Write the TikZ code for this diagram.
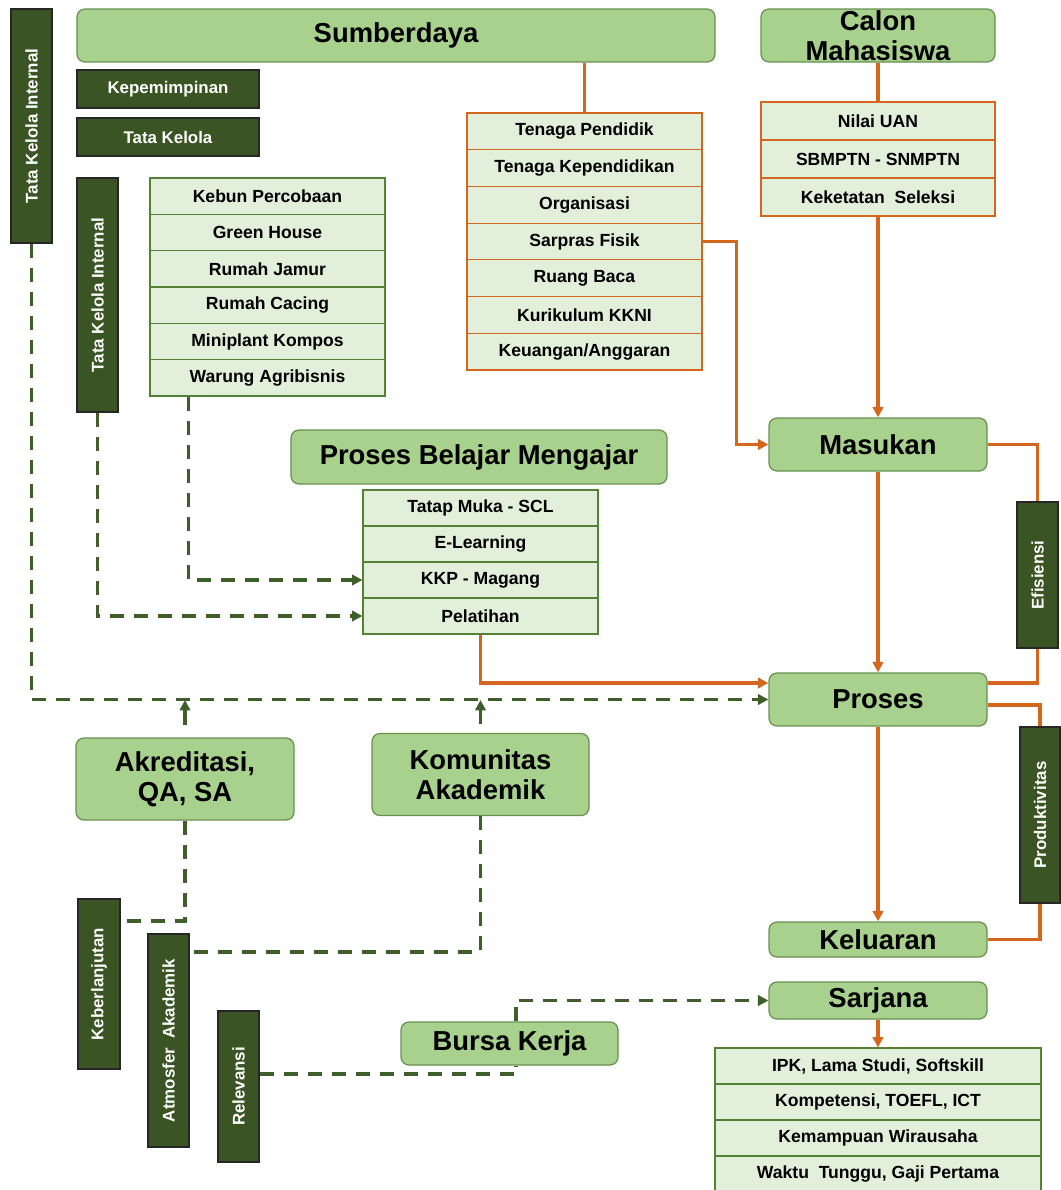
\documentclass[tikz,border=0pt]{standalone}
\usepackage{fontspec}
\setmainfont{Liberation Sans}
\usetikzlibrary{arrows.meta,calc}
\definecolor{mainfill}{RGB}{169,209,142}
\definecolor{mainedge}{RGB}{104,145,80}
\definecolor{darkfill}{RGB}{59,84,35}
\definecolor{rowfill}{RGB}{226,239,218}
\definecolor{rowedge}{RGB}{84,130,53}
\definecolor{orangeclr}{RGB}{212,102,30}
\definecolor{dashclr}{RGB}{62,95,42}

\begin{document}
\begin{tikzpicture}[x=0.25mm, y=-0.25mm,
  mainbox/.style={draw=mainedge, fill=mainfill, rounded corners=2mm, line width=0.9pt,
    font=\fontsize{19.5}{21}\selectfont\bfseries, inner sep=0pt, align=center},
  darkbox/.style={draw=black!85, fill=darkfill, text=white, line width=1pt,
    font=\fontsize{12}{14}\selectfont\bfseries, inner sep=0pt},
  darkvert/.style={darkbox, rotate=90},
  greenrow/.style={draw=rowedge, fill=rowfill, line width=0.8pt, inner sep=0pt,
    font=\fontsize{12.5}{14}\selectfont\bfseries},
  orangerow/.style={greenrow, draw=orangeclr},
  orline/.style={draw=orangeclr, line width=2.6pt},
  orarrow/.style={orline, -{Triangle[length=2.6mm,width=2.6mm]}},
  gnline/.style={draw=dashclr, line width=2.4pt, dash pattern=on 3.5mm off 2.5mm},
  gnarrow/.style={gnline, -{Triangle[length=2.6mm,width=2.6mm]}}]
\useasboundingbox[fill=white] (0,0) rectangle (1060,1190);

% kepala
\node[mainbox, minimum width=159.5mm, minimum height=13.25mm] (sumber) at (396,35.5) {Sumberdaya};
\node[mainbox, minimum width=58.5mm, minimum height=13.25mm] (calon) at (878,35.5) {Calon\\Mahasiswa};
\node[darkvert, minimum width=58.5mm, minimum height=10.25mm] (tki1) at (31.5,126) {Tata Kelola Internal};
\node[darkbox, minimum width=45.5mm, minimum height=9.5mm] (kepem) at (168,89) {Kepemimpinan};
\node[darkbox, minimum width=45.5mm, minimum height=9.5mm] (tatakel) at (168,137) {Tata Kelola};
\node[darkvert, minimum width=58.5mm, minimum height=10.25mm] (tki2) at (97.5,295) {Tata Kelola Internal};

% daftar
\foreach \t [count=\i] in {Kebun Percobaan, Green House, Rumah Jamur, Rumah Cacing, Miniplant Kompos, Warung Agribisnis}
  \node[greenrow, minimum width=58.75mm, minimum height=9.08mm] (fas\i) at (267.5,{178+(\i-0.5)*36.33}) {\t};
\foreach \t [count=\i] in {Tenaga Pendidik, Tenaga Kependidikan, Organisasi, Sarpras Fisik, Ruang Baca, Kurikulum KKNI, Keuangan/Anggaran}
  \node[orangerow, minimum width=58.75mm, minimum height=9.18mm] (sd\i) at (584.5,{113+(\i-0.5)*36.71}) {\t};
\foreach \t [count=\i] in {Nilai UAN, SBMPTN - SNMPTN, Keketatan~~Seleksi}
  \node[orangerow, minimum width=58.5mm, minimum height=9.5mm] (cm\i) at (878,{102+(\i-0.5)*38}) {\t};
\foreach \t [count=\i] in {Tatap Muka - SCL, E-Learning, KKP - Magang, Pelatihan}
  \node[greenrow, minimum width=58.75mm, minimum height=9mm] (pbm\i) at (480.5,{490+(\i-0.5)*36}) {\t};
\foreach \t [count=\i] in {{IPK, Lama Studi, Softskill}, {Kompetensi, TOEFL, ICT}, Kemampuan Wirausaha, {Waktu~~Tunggu, Gaji Pertama}}
  \node[greenrow, minimum width=81.5mm, minimum height=9mm] (out\i) at (878,{1048+(\i-0.5)*36}) {\t};

% alur
\node[mainbox, minimum width=94mm, minimum height=13.5mm] (pbm) at (479,457) {Proses Belajar Mengajar};
\node[mainbox, minimum width=54.5mm, minimum height=13.25mm] (masukan) at (878,444.5) {Masukan};
\node[mainbox, minimum width=54.5mm, minimum height=13.25mm] (proses) at (878,699.5) {Proses};
\node[mainbox, minimum width=54.5mm, minimum height=8.75mm] (keluaran) at (878,939.5) {Keluaran};
\node[mainbox, minimum width=54.5mm, minimum height=9.25mm] (sarjana) at (878,1000.5) {Sarjana};
\node[darkvert, minimum width=36.5mm, minimum height=10.25mm] (efisiensi) at (1037.5,575) {Efisiensi};
\node[darkvert, minimum width=44mm, minimum height=10mm] (produktivitas) at (1040,815) {Produktivitas};

% bawah
\node[mainbox, minimum width=54.5mm, minimum height=20.5mm] (akred) at (185,779) {Akreditasi,\\QA, SA};
\node[mainbox, minimum width=54.25mm, minimum height=20.5mm] (komun) at (480.5,774.5) {Komunitas\\Akademik};
\node[mainbox, minimum width=54.25mm, minimum height=10.75mm] (bursa) at (509.5,1043.5) {Bursa Kerja};
\node[darkvert, minimum width=42.5mm, minimum height=10.5mm] (keber) at (99,984) {Keberlanjutan};
\node[darkvert, minimum width=53.25mm, minimum height=10.25mm] (atmos) at (168.5,1040.5) {Atmosfer~~Akademik};
\node[darkvert, minimum width=37.75mm, minimum height=10.25mm] (relev) at (238.5,1086.5) {Relevansi};

\coordinate (bus) at (31.5,700);

% garis oranye
\draw[orline] (sd1.north |- sumber.south) -- (sd1.north);
\draw[orline] (calon) -- (cm1);
\draw[orarrow] (cm3) -- (masukan);
\draw[orarrow] (sd4.east) -- ++(34,0) |- (masukan.west);
\draw[orarrow] (masukan) -- (proses);
\draw[orarrow] (proses) -- (keluaran);
\draw[orarrow] (sarjana) -- (out1);
\draw[orarrow] (pbm4.south) |- ($(proses.west)+(0,-16.5)$);
\draw[orline] (masukan.east) -| (efisiensi.east);
\draw[orline] (efisiensi.west) |- ($(proses.east)+(0,-16.5)$);
\draw[orline] ($(proses.east)+(0,5.5)$) -| (produktivitas.east);
\draw[orline] (produktivitas.west) |- (keluaran.east);

% garis putus hijau
\draw[gnarrow] (tki1.west) |- (proses.west);
\draw[gnarrow] (tki2.west) |- (pbm4.west);
\draw[gnarrow] ($(fas6.south west)+(39,0)$) |- (pbm3.west);
\draw[draw=dashclr, line width=2.4pt, -{Triangle[length=2.6mm,width=2.6mm]}, shorten <=3.2mm] (akred) -- (akred.north |- bus);
\draw[draw=dashclr, line width=2.4pt, -{Triangle[length=2.6mm,width=2.6mm]}, shorten <=2.2mm] (komun) -- (komun.north |- bus);
\draw[gnline] (akred.south) |- ($(keber.south)+(0,-63)$);
\draw[gnline] (komun.south) |- ($(atmos.south)+(0,-88.5)$);
\draw[gnline] ($(relev.south)+(0,-12.5)$) -| ($(bursa.south)+(6.5,0)$);
\draw[gnarrow] ($(bursa.north)+(6.5,0)$) |- (sarjana.west);
\end{tikzpicture}
\end{document}
